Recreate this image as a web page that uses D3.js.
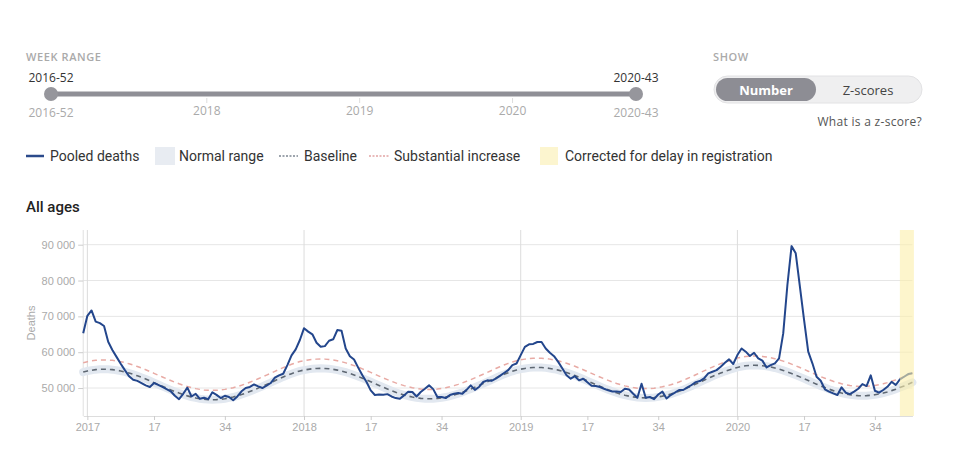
<!DOCTYPE html>
<html>
<head>
<meta charset="utf-8">
<script src="https://cdn.jsdelivr.net/npm/d3@7"></script>
<style>
  body { margin: 0; background: #fff; }
  svg { display: block; }
</style>
</head>
<body>
<div id="chart-area"></div>
<script>
// weekly pooled deaths (2016-52 .. 2020-43)
var pooled2016 = [65300];
var pooled2017 = [70150,71650,68550,68100,67300,62900,60600,58700,56800,55000,
    53300,52300,52000,51400,50750,50300,51400,50900,50300,49700,
    49100,47850,46900,48400,50100,47650,48400,47000,47300,46900,
    48800,48100,47200,47850,47500,46600,47650,49100,50000,50300,
    51000,50450,50000,50650,51400,52900,53550,54000,56400,59100,
    60800,63400];
var pooled2018 = [66700,65750,65000,62650,61500,61700,63200,63600,66200,66000,
    61050,58900,57950,55700,53550,51700,49350,48050,48200,48100,
    48300,47650,47200,47000,47950,49000,48900,47650,48900,49800,
    50750,49700,47500,47500,47200,48050,48400,48600,48400,49500,
    50750,49500,50300,51700,52150,52000,52600,53400,54200,55000,
    56400,56850];
var pooled2019 = [59200,61500,62200,62300,62850,62850,61050,59850,58900,57300,
    55450,53550,52600,53300,52150,52600,51600,50650,50550,50300,
    49800,49350,49050,49050,48900,49800,49600,48400,47300,51200,
    47300,47500,46900,48200,49000,47100,48050,48700,49450,49450,
    50200,50850,51650,51950,52700,54100,54550,55000,55950,57050,
    58000,56700];
var pooled2020 = [59200,61050,60150,58950,59850,58300,57650,55750,56400,56900,
    58300,65250,78750,89600,87600,78300,69000,60150,56900,53150,
    52050,49650,49000,48500,48050,50200,48700,48300,49000,49800,
    51100,50550,53550,49250,48700,49450,50350,51750,50850,52400,
    53150,53900,54100];

// baseline
var base2016 = [54450];
var base2017 = [54760,54970,55130,55220,55250,55220,55130,54970,54760,54500,
    54180,53820,53410,52980,52510,52020,51510,51000,50490,49980,
    49490,49030,48590,48180,47820,47500,47240,47030,46870,46780,
    46750,46780,46870,47030,47240,47500,47820,48180,48590,49030,
    49490,49980,50490,51000,51510,52060,52590,53100,53570,54020,
    54420,54780];
var base2018 = [55010,55220,55380,55470,55500,55470,55380,55220,55010,54750,
    54430,54070,53660,53230,52760,52270,51760,51250,50740,50230,
    49740,49280,48840,48430,48070,47750,47490,47280,47120,47030,
    47000,47030,47120,47280,47490,47750,48070,48430,48840,49280,
    49740,50230,50740,51250,51760,52310,52840,53350,53820,54270,
    54670,55030];
var base2019 = [55260,55470,55630,55720,55750,55720,55630,55470,55260,55000,
    54680,54320,53910,53480,53010,52520,52010,51500,50990,50480,
    49990,49530,49090,48680,48320,48000,47740,47530,47370,47280,
    47250,47280,47370,47530,47740,48000,48320,48680,49090,49560,
    50050,50570,51110,51650,52190,52730,53250,53750,54210,54650,
    55040,55390];
var base2020 = [55760,56010,56230,56320,56350,56320,56230,56070,55860,55600,
    55280,54920,54510,54080,53610,53120,52610,52100,51590,51080,
    50590,50130,49690,49280,48920,48600,48340,48130,47970,47880,
    47850,47880,47970,48130,48340,48600,48920,49280,49690,50130,
    50590,51080,51590];

// substantial increase threshold
var subst2016 = [57050];
var subst2017 = [57360,57570,57730,57820,57850,57820,57730,57570,57360,57100,
    56780,56420,56010,55580,55110,54620,54110,53600,53090,52580,
    52090,51630,51190,50780,50420,50100,49840,49630,49470,49380,
    49350,49380,49470,49630,49840,50100,50420,50780,51190,51630,
    52090,52580,53090,53600,54110,54660,55190,55700,56170,56620,
    57020,57380];
var subst2018 = [57610,57820,57980,58070,58100,58070,57980,57820,57610,57350,
    57030,56670,56260,55830,55360,54870,54360,53850,53340,52830,
    52340,51880,51440,51030,50670,50350,50090,49880,49720,49630,
    49600,49630,49720,49880,50090,50350,50670,51030,51440,51880,
    52340,52830,53340,53850,54360,54910,55440,55950,56420,56870,
    57270,57630];
var subst2019 = [57860,58070,58230,58320,58350,58320,58230,58070,57860,57600,
    57280,56920,56510,56080,55610,55120,54610,54100,53590,53080,
    52590,52130,51690,51280,50920,50600,50340,50130,49970,49880,
    49850,49880,49970,50130,50340,50600,50920,51280,51690,52160,
    52650,53170,53710,54250,54790,55330,55850,56350,56810,57250,
    57640,57990];
var subst2020 = [58360,58610,58830,58920,58950,58920,58830,58670,58460,58200,
    57880,57520,57110,56680,56210,55720,55210,54700,54190,53680,
    53190,52730,52290,51880,51520,51200,50940,50730,50570,50480,
    50450,50480,50570,50730,50940,51200,51520,51880,52290,52730,
    53190,53680,54190];

var yTicks = [50000, 60000, 70000, 80000, 90000];
var tickWeeks = [1, 17, 34];
var sliderYears = ["2018", "2019", "2020"];
var delayedWeeks = ["2020-40", "2020-41", "2020-42", "2020-43"];

// week labels
var weeks = ["2016-52"];
[2017, 2018, 2019, 2020].forEach(function(yr){
    var last = yr == 2020 ? 43 : 52;
    for (var w = 1; w <= last; w++) weeks.push(yr + "-" + (w < 10 ? "0" + w : w));
});

var pooled = pooled2016.concat(pooled2017, pooled2018, pooled2019, pooled2020);
var baseline = base2016.concat(base2017, base2018, base2019, base2020);
var substantial = subst2016.concat(subst2017, subst2018, subst2019, subst2020);

var W = 960, H = 463;
var svg = d3.select("#chart-area")
    .append("svg")
    .attr("width", W)
    .attr("height", H);

var uiFont = "'Open Sans', 'Noto Sans', sans-serif";
var lgFont = "Roboto, 'Noto Sans', sans-serif";
var axFont = "'Liberation Sans', Arial, sans-serif";

// ---------- week range slider ----------
svg.append("text")
    .attr("x", 26).attr("y", 61)
    .attr("font-family", uiFont).attr("font-size", "11px").attr("font-weight", 600)
    .attr("letter-spacing", "0.6px").attr("fill", "#aaa")
    .text("WEEK RANGE");

var sx = d3.scalePoint().domain(weeks).range([51, 636]);

svg.append("line")
    .attr("x1", sx(weeks[0])).attr("x2", sx(weeks[weeks.length - 1]))
    .attr("y1", 94).attr("y2", 94)
    .attr("stroke", "#8f8f96").attr("stroke-width", 5);

sliderYears.forEach(function(yr){
    var xx = sx(yr + "-01");
    svg.append("line")
        .attr("x1", xx).attr("x2", xx).attr("y1", 98).attr("y2", 103)
        .attr("stroke", "#ddd");
    svg.append("text")
        .attr("x", xx).attr("y", 115)
        .attr("text-anchor", "middle")
        .attr("font-family", uiFont).attr("font-size", "12px")
        .attr("fill", "#aaa")
        .text(yr);
});

[weeks[0], weeks[weeks.length - 1]].forEach(function(wk){
    var xx = sx(wk);
    svg.append("circle")
        .attr("cx", xx).attr("cy", 94).attr("r", 7)
        .attr("fill", "#96969c");
    svg.append("text")
        .attr("x", xx).attr("y", 82)
        .attr("text-anchor", "middle")
        .attr("font-family", uiFont).attr("font-size", "12px")
        .attr("fill", "#333")
        .text(wk);
    svg.append("text")
        .attr("x", xx).attr("y", 117)
        .attr("text-anchor", "middle")
        .attr("font-family", uiFont).attr("font-size", "12px")
        .attr("fill", "#aaa")
        .text(wk);
});

// ---------- show toggle ----------
svg.append("text")
    .attr("x", 713).attr("y", 61)
    .attr("font-family", uiFont).attr("font-size", "11px").attr("font-weight", 600)
    .attr("letter-spacing", "0.6px").attr("fill", "#aaa")
    .text("SHOW");

svg.append("rect")
    .attr("x", 714).attr("y", 76).attr("width", 208).attr("height", 27).attr("rx", 13.5)
    .attr("fill", "#efeff0").attr("stroke", "#e2e2e4");
svg.append("rect")
    .attr("x", 716).attr("y", 78).attr("width", 100).attr("height", 23).attr("rx", 11.5)
    .attr("fill", "#8d8d94");
svg.append("text")
    .attr("x", 766).attr("y", 94.5).attr("text-anchor", "middle")
    .attr("font-family", uiFont).attr("font-size", "13px").attr("font-weight", 700)
    .attr("fill", "#fff")
    .text("Number");
svg.append("text")
    .attr("x", 868).attr("y", 94.5).attr("text-anchor", "middle")
    .attr("font-family", uiFont).attr("font-size", "13px")
    .attr("fill", "#444")
    .text("Z-scores");
svg.append("text")
    .attr("x", 922).attr("y", 126).attr("text-anchor", "end")
    .attr("font-family", uiFont).attr("font-size", "12px")
    .attr("letter-spacing", "0.3px")
    .attr("fill", "#555")
    .text("What is a z-score?");

// ---------- legend ----------
var lg = svg.append("g").attr("font-family", lgFont).attr("font-size", "14px").attr("fill", "#333");
lg.append("line").attr("x1", 26).attr("x2", 44).attr("y1", 156).attr("y2", 156)
    .attr("stroke", "#2b4a8b").attr("stroke-width", 2.5);
lg.append("text").attr("x", 50).attr("y", 161).text("Pooled deaths");
lg.append("rect").attr("x", 155).attr("y", 147).attr("width", 20).attr("height", 18)
    .attr("fill", "#e8ecf2");
lg.append("text").attr("x", 179).attr("y", 161).text("Normal range");
lg.append("line").attr("x1", 279).attr("x2", 298).attr("y1", 156).attr("y2", 156)
    .attr("stroke", "#7d8792").attr("stroke-width", 1.5).attr("stroke-dasharray", "2,1.5");
lg.append("text").attr("x", 304).attr("y", 161).text("Baseline");
lg.append("line").attr("x1", 369).attr("x2", 389).attr("y1", 156).attr("y2", 156)
    .attr("stroke", "#e2a4a4").attr("stroke-width", 1.5).attr("stroke-dasharray", "2,1.5");
lg.append("text").attr("x", 394).attr("y", 161).text("Substantial increase");
lg.append("rect").attr("x", 540).attr("y", 147).attr("width", 18).attr("height", 18)
    .attr("fill", "#fcf5cf");
lg.append("text").attr("x", 565).attr("y", 161).text("Corrected for delay in registration");

svg.append("text")
    .attr("x", 26).attr("y", 212)
    .attr("font-family", lgFont).attr("font-size", "15px").attr("font-weight", 500)
    .attr("fill", "#222")
    .text("All ages");

// ---------- chart ----------
var plotL = 83.2, plotR = 912.4, plotT = 230, plotB = 416;

var x = d3.scalePoint().domain(weeks).range([plotL, plotR]);
var y = d3.scaleLinear().domain([42200, 94100]).range([plotB, plotT]);

var g = svg.append("g");

// horizontal grid
g.selectAll(".hgrid")
    .data(yTicks)
    .enter().append("line")
    .attr("x1", plotL).attr("x2", plotR)
    .attr("y1", function(d){ return y(d); })
    .attr("y2", function(d){ return y(d); })
    .attr("stroke", "#e6e6e6");

// vertical grid at year start
var yearStarts = weeks.filter(function(w){ return w.slice(5) == "01"; });
g.selectAll(".vgrid")
    .data(yearStarts)
    .enter().append("line")
    .attr("x1", function(d){ return x(d); })
    .attr("x2", function(d){ return x(d); })
    .attr("y1", plotT).attr("y2", plotB)
    .attr("stroke", "#dcdcdc");

var fmt = d3.formatLocale({ decimal: ".", thousands: " ", grouping: [3], currency: ["", ""] }).format(",");

var yAxisCall = d3.axisLeft(y)
    .tickValues(yTicks)
    .tickSize(5)
    .tickSizeOuter(0)
    .tickFormat(fmt);
var ya = g.append("g")
    .attr("transform", "translate(" + plotL + ",0)")
    .call(yAxisCall);
ya.select(".domain").attr("stroke", "#e0e0e0").attr("d", "M0," + plotT + "V" + plotB);
ya.selectAll(".tick line").attr("stroke", "#ccc");
ya.selectAll(".tick text").attr("fill", "#aaa").attr("font-family", axFont).attr("font-size", "11px");

g.append("text")
    .attr("transform", "translate(35," + (plotT + plotB) / 2 + ") rotate(-90)")
    .attr("text-anchor", "middle")
    .attr("font-family", axFont).attr("font-size", "11px")
    .attr("fill", "#aaa")
    .text("Deaths");

var xTicks = weeks.filter(function(w){ return tickWeeks.indexOf(+w.slice(5)) >= 0 && w != "2016-52"; });
var xAxisCall = d3.axisBottom(x)
    .tickValues(xTicks)
    .tickSize(4)
    .tickSizeOuter(0)
    .tickFormat(function(w){
        var wk = +w.slice(5);
        return wk == 1 ? w.slice(0, 4) : wk;
    });
var xa = g.append("g")
    .attr("transform", "translate(0," + plotB + ")")
    .call(xAxisCall);
xa.select(".domain").attr("stroke", "#ddd");
xa.selectAll(".tick line").attr("stroke", "#ccc");
xa.selectAll(".tick text").attr("fill", "#aaa").attr("font-family", axFont).attr("font-size", "11px");

// normal range, baseline, substantial increase
var line = d3.line()
    .x(function(d, i){ return x(weeks[i]); })
    .y(function(d){ return y(d); });

g.append("path")
    .attr("d", line(baseline))
    .attr("fill", "none")
    .attr("stroke", "#e2e8f0")
    .attr("stroke-width", 8)
    .attr("stroke-linecap", "round");

g.append("path")
    .attr("d", line(substantial))
    .attr("fill", "none")
    .attr("stroke", "#e8aaa4")
    .attr("stroke-width", 1.5)
    .attr("stroke-dasharray", "5,4");

g.append("path")
    .attr("d", line(baseline))
    .attr("fill", "none")
    .attr("stroke", "#5f6873")
    .attr("stroke-width", 1.6)
    .attr("stroke-dasharray", "5,4");

g.append("path")
    .attr("d", line(pooled))
    .attr("fill", "none")
    .attr("stroke", "#23468c")
    .attr("stroke-width", 2)
    .attr("stroke-linejoin", "round");

// delayed registration band
g.append("rect")
    .attr("x", x(delayedWeeks[0]))
    .attr("y", plotT)
    .attr("width", x(delayedWeeks[delayedWeeks.length - 1]) - x(delayedWeeks[0]) + 1.5)
    .attr("height", plotB - plotT)
    .attr("fill", "#fbefaa")
    .attr("opacity", 0.6);
</script>
</body>
</html>
